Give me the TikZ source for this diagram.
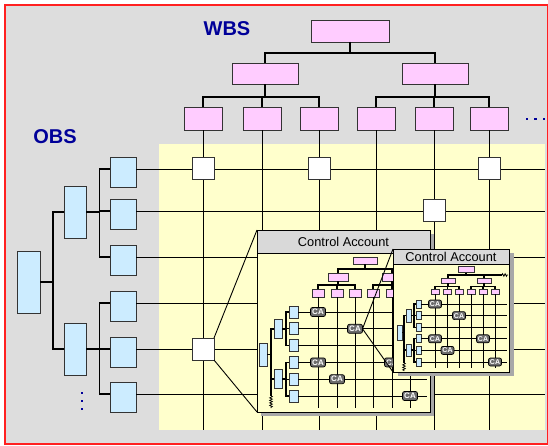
\documentclass[tikz,border=0pt]{standalone}
\usepackage{fontspec}
\setmainfont{Liberation Sans}
\usetikzlibrary{positioning,calc,decorations.pathmorphing}
\definecolor{Frame}{HTML}{FF2020}
\definecolor{Slate}{HTML}{DDDDDD}
\definecolor{Cream}{HTML}{FFFFCC}
\definecolor{Pink}{HTML}{FFCCFF}
\definecolor{IceBlue}{HTML}{CCECFF}
\definecolor{Navy}{HTML}{000099}
\definecolor{Header}{HTML}{D9D9D9}
\definecolor{Shade}{HTML}{A8A8A8}
\definecolor{Edge}{HTML}{333333}

\begin{document}
\begin{tikzpicture}[x=1pt,y=-1pt,every node/.style={inner sep=0pt,outer sep=0pt},
  box/.style={draw=Edge,line width=0.9pt},
  wbs/.style={box,fill=Pink},
  obs/.style={box,fill=IceBlue},
  cell/.style={draw=Edge,fill=white,line width=1pt,minimum size=22pt},
  tree/.style={line width=1.1pt},
  gridline/.style={line width=0.9pt},
  heading/.style={font=\bfseries\fontsize{20}{20}\selectfont,text=Navy},
  panel/.style={draw,line width=1pt,fill=Cream,anchor=north west},
  header/.style={draw,line width=1pt,fill=Header,anchor=north west,font=\fontsize{12.8}{12.8}\selectfont},
  ca/.style={draw,fill=gray!85!black,text=white,rounded corners=2pt,line width=0.7pt,font=\bfseries\fontsize{8}{8}\selectfont,minimum width=15pt,minimum height=9pt},
  smallca/.style={ca,font=\bfseries\fontsize{7}{7}\selectfont,minimum width=13pt,minimum height=8pt},
  squiggle/.style={line width=0.7pt,decorate,decoration={zigzag,segment length=2.5pt,amplitude=1.4pt}}]
\useasboundingbox (0,0) rectangle (548,446);
\filldraw[fill=Slate,draw=Frame,line width=1.2pt] (5,5) rectangle (547.5,444);
\fill[Cream] (159,144) rectangle (545,430);

\node[heading] (wtitle) at (227,29) {WBS};
\node[heading] (otitle) at (55,137) {OBS};

% WBS tree
\node[wbs,minimum width=78pt,minimum height=22pt] (w0) at (350,31) {};
\node[wbs,minimum width=66pt,minimum height=21pt] (w1) at (265,74) {};
\node[wbs,minimum width=66pt,minimum height=21pt] (w2) at (435,74) {};
\foreach \x [count=\i] in {203,262,319,376,434,489}
  \node[wbs,minimum width=38pt,minimum height=23pt] (c\i) at (\x,119) {};
\draw[tree] (w0.south) -- ++(0,11) -| (w1.north);
\draw[tree] (w0.south) -- ++(0,11) -| (w2.north);
\foreach \i in {1,2,3} \draw[tree] (w1.south) -- ++(0,12.5) -| (c\i.north);
\foreach \i in {4,5,6} \draw[tree] (w2.south) -- ++(0,12.5) -| (c\i.north);
\foreach \x in {527,535.5,544} \fill[Navy] (\x-1.3,117.7) rectangle ++(2.6,2.6);

% OBS tree
\node[obs,minimum width=23pt,minimum height=62pt] (o0) at (28.5,282) {};
\node[obs,minimum width=22pt,minimum height=52pt] (o1) at (75,212) {};
\node[obs,minimum width=22pt,minimum height=52pt] (o2) at (75,349) {};
\foreach \y [count=\j] in {169,211,257,303,349,394}
  \node[obs,minimum width=26pt,minimum height=30pt] (r\j) at (123,\y+3) {};
\draw[tree] (o0.east) -- ++(13,0) |- (o1.west);
\draw[tree] (o0.east) -- ++(13,0) |- (o2.west);
\foreach \j in {1,2,3} \draw[tree] (o1.east) -- ++(13.5,0) |- ($(r\j.west)+(0,-3)$);
\foreach \j in {4,5,6} \draw[tree] (o2.east) -- ++(13.5,0) |- ($(r\j.west)+(0,-3)$);
\foreach \y in {393,401,409} \fill[Navy] (80.5,\y-1.3) rectangle ++(2.6,2.6);

% responsibility matrix
\coordinate (bot) at (0,430);
\coordinate (rgt) at (545,0);
\foreach \i in {1,...,6} \draw[gridline] (c\i.south) -- (c\i |- bot);
\foreach \j in {1,...,6} \draw[gridline] ($(r\j.east)+(0,-3)$) coordinate (e\j) -- (e\j -| rgt);
\node[cell] (x11) at (c1 |- e1) {};
\node[cell] (x31) at (c3 |- e1) {};
\node[cell] (x61) at (c6 |- e1) {};
\node[cell] (x52) at (c5 |- e2) {};
\node[cell] (x15) at (c1 |- e5) {};

% first control account
\draw[gridline] (x15.north east) -- (257,230) coordinate (p1nw);
\draw[gridline] (x15.south east) -- (257,412);
\fill[Shade] (261,234) rectangle (434,416);
\node[panel,minimum width=173pt,minimum height=182pt] (p1) at (p1nw) {};
\node[header,minimum width=173pt,minimum height=23pt] (h1) at (p1.north west) {Control Account};

\node[wbs,minimum width=24pt,minimum height=7pt] (a0) at (365,260.5) {};
\node[wbs,minimum width=20pt,minimum height=8pt] (a1) at (338,277) {};
\node[wbs,minimum width=20pt,minimum height=8pt] (a2) at (392,277) {};
\foreach \x [count=\i] in {318,337,355,373,392,410}
  \node[wbs,minimum width=12pt,minimum height=8pt] (ac\i) at (\x,293) {};
\draw[tree] (a0.south) -- ++(0,5) -| (a1.north);
\draw[tree] (a0.south) -- ++(0,5) -| (a2.north);
\foreach \i in {1,2,3} \draw[tree] (a1.south) -- ++(0,4) -| (ac\i.north);
\foreach \i in {4,5,6} \draw[tree] (a2.south) -- ++(0,4) -| (ac\i.north);

\node[obs,minimum width=8pt,minimum height=23pt] (ao0) at (263,354.5) {};
\node[obs,minimum width=8pt,minimum height=19pt] (ao1) at (278,329) {};
\node[obs,minimum width=8pt,minimum height=19pt] (ao2) at (278,379) {};
\foreach \y [count=\j] in {312,328.8,345.6,362.4,379.2,396}
  \node[obs,minimum width=9pt,minimum height=12pt] (ar\j) at (293.5,\y) {};
\draw[tree] (ao0.east) -- ++(4,0) coordinate (abus) |- (ao1.west);
\draw[tree] (abus) |- (ao2.west);
\draw[tree] (abus |- ao2) -- ++(0,17) coordinate (aq);
\draw[squiggle] (aq) -- ++(0,12);
\foreach \j in {1,2,3} \draw[tree] (ao1.east) -- ++(4,0) |- (ar\j.west);
\foreach \j in {4,5,6} \draw[tree] (ao2.east) -- ++(4,0) |- (ar\j.west);

\coordinate (abot) at (0,408);
\coordinate (argt) at (427,0);
\foreach \i in {1,...,6} \draw[gridline] (ac\i.south) -- (ac\i |- abot);
\foreach \j in {1,...,6} \draw[gridline] (ar\j.east) -- (ar\j -| argt);
\node[ca] (aca1) at (ac1 |- ar1) {CA};
\node[ca] (aca2) at (ac3 |- ar2) {CA};
\node[ca] (aca3) at (ac1 |- ar4) {CA};
\node[ca] (aca4) at (ac2 |- ar5) {CA};
\node[ca] (aca5) at (ac5 |- ar4) {CA};
\node[ca] (aca6) at (ac6 |- ar6) {CA};

% second control account
\draw[gridline] (aca2.east) -- (393,249) coordinate (p2nw);
\draw[gridline] (aca2.east) -- (393,372);
\fill[Shade] (398,253) rectangle (514,376);
\node[panel,minimum width=116pt,minimum height=123pt] (p2) at (p2nw) {};
\node[header,minimum width=116pt,minimum height=15pt] (h2) at (p2.north west) {Control Account};

\node[wbs,minimum width=16pt,minimum height=6pt] (b0) at (466,269.5) {};
\node[wbs,minimum width=14pt,minimum height=5pt] (b1) at (448,280.5) {};
\node[wbs,minimum width=14pt,minimum height=5pt] (b2) at (484,280.5) {};
\foreach \x [count=\i] in {435,447.5,459,471,483,495}
  \node[wbs,minimum width=8pt,minimum height=5pt] (bc\i) at (\x,291.5) {};
\coordinate (bend) at (502,0);
\draw[tree] (b0.south) -- ++(0,2.5) coordinate (bbus) -| (b1.north);
\draw[tree] (bbus) -| (b2.north);
\draw[tree] (bbus) -- (bbus -| bend);
\draw[squiggle] (bbus -| bend) -- ++(6,0);
\foreach \i in {1,2,3} \draw[tree] (b1.south) -- ++(0,3.5) -| (bc\i.north);
\foreach \i in {4,5,6} \draw[tree] (b2.south) -- ++(0,3.5) -| (bc\i.north);

\node[obs,minimum width=5pt,minimum height=15pt] (bo0) at (399.5,332.5) {};
\node[obs,minimum width=5pt,minimum height=13pt] (bo1) at (408.5,315.5) {};
\node[obs,minimum width=5pt,minimum height=12pt] (bo2) at (408.5,350) {};
\foreach \y [count=\j] in {304,315.6,327.2,338.8,350.4,362}
  \node[obs,minimum width=5pt,minimum height=8pt] (br\j) at (418.5,\y) {};
\draw[tree] (bo0.east) -- ++(2,0) coordinate (bobus) |- (bo1.west);
\draw[tree] (bobus) |- (bo2.west);
\draw[tree] (bobus |- bo2) -- ++(0,13) coordinate (bq);
\draw[squiggle] (bq) -- ++(0,8);
\foreach \j in {1,2,3} \draw[tree] (bo1.east) -- ++(3,0) |- (br\j.west);
\foreach \j in {4,5,6} \draw[tree] (bo2.east) -- ++(3,0) |- (br\j.west);

\coordinate (bbot) at (0,368);
\coordinate (brgt) at (507,0);
\foreach \i in {1,...,6} \draw[gridline] (bc\i.south) -- (bc\i |- bbot);
\foreach \j in {1,...,6} \draw[gridline] (br\j.east) -- (br\j -| brgt);
\node[smallca] (bca1) at (bc1 |- br1) {CA};
\node[smallca] (bca2) at (bc3 |- br2) {CA};
\node[smallca] (bca3) at (bc1 |- br4) {CA};
\node[smallca] (bca4) at (bc2 |- br5) {CA};
\node[smallca] (bca5) at (bc5 |- br4) {CA};
\node[smallca] (bca6) at (bc6 |- br6) {CA};
\end{tikzpicture}
\end{document}
